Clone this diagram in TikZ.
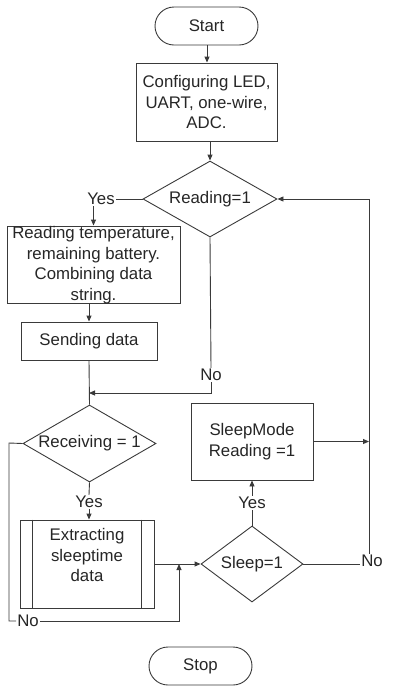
\documentclass[tikz,border=0pt]{standalone}
\usepackage{fontspec}
\setmainfont{Liberation Sans}
\usetikzlibrary{shapes.geometric,arrows.meta,calc}
\definecolor{ln}{HTML}{3A3A3A}
\definecolor{tx}{HTML}{262626}
\begin{document}
\begin{tikzpicture}[x=1pt,y=-1pt,
  every node/.style={font=\fontsize{16.8}{20.5}\selectfont, text=tx},
  flow/.style={draw=ln, line width=0.9pt},
  arr/.style={flow, -{Triangle[length=6pt,width=5pt]}},
  boxnode/.style={draw=ln, line width=0.9pt, rectangle, inner sep=0pt, align=center},
  term/.style={boxnode, rounded corners=19pt, minimum width=103pt, minimum height=38pt},
  decision/.style={draw=ln, line width=0.9pt, diamond, inner sep=0pt, aspect=1.7},
  lbl/.style={inner sep=1pt}]
\useasboundingbox (0,0) rectangle (407,689);

% nodes
\node[term] (start) at (206.5,26) {Start};
\node[boxnode, minimum width=141pt, minimum height=78pt] (cfg) at (206.5,102) {Configuring LED,\\UART, one-wire,\\ADC.};
\node[decision, minimum width=134pt, minimum height=76pt] (rd1) at (210,199) {};
\node (rd1txt) at (210,199) {Reading=1};
\node[lbl] (yes1) at (101,199) {Yes};
\node[boxnode, minimum width=173pt, minimum height=77pt] (rdbox) at (93.5,264.5) {};
\node[align=center, inner sep=0pt] (rdtxt) at (93.5,265) {Reading temperature,\\remaining battery.\\Combining data\\string.};
\node[boxnode, minimum width=136pt, minimum height=38pt] (send) at (89,341) {Sending data};
\node[lbl] (no1) at (211,375) {No};
\coordinate (j1) at (89,393);
\node[decision, minimum width=133pt, minimum height=77pt] (recv) at (89.5,443.5) {};
\node (recvtxt) at (89.5,443.5) {Receiving = 1};
\node[lbl] (yes2) at (89,502) {Yes};
\node[boxnode, minimum width=134pt, minimum height=88pt] (ext) at (87,564) {};
\draw[flow] ([xshift=13pt]ext.north west) -- ([xshift=13pt]ext.south west);
\draw[flow] ([xshift=-13pt]ext.north east) -- ([xshift=-13pt]ext.south east);
\node[align=center, inner sep=0pt] (exttxt) at (87,555) {Extracting\\sleeptime\\data};
\coordinate (m) at (179,564);
\node[decision, minimum width=102pt, minimum height=76pt] (sleep) at (252,564) {};
\node (sleeptxt) at (252,564) {Sleep=1};
\node[lbl] (yes3) at (252,503) {Yes};
\node[boxnode, minimum width=122pt, minimum height=77pt] (sm) at (252,441.5) {SleepMode\\Reading =1};
\coordinate (r) at (369,199);
\node[lbl] (no4) at (372,561) {No};
\coordinate (lft) at (9,443);
\node[lbl] (no3) at (28,621) {No};
\node[term] (stop) at (200.5,666) {Stop};

% connectors
\draw[arr] (start.south -| 207,0) -- (cfg.north -| 207,0);
\draw[arr] (rd1.north |- cfg.south) -- (rd1.north);
\draw[flow] (rd1.west) -- (yes1.east);
\draw[arr] (yes1.south -| rdbox.north) -- (rdbox.north);
\draw[arr] (rdbox.south -| send.north) -- (send.north);
\draw[flow] (send.south) -- (recv.north);
\draw[flow] (rd1.south) -- (no1.north);
\draw[arr] (no1.south) -- (no1.south |- j1) -- (j1);
\draw[flow] (recv.south) -- (yes2.north);
\draw[arr] (yes2.south) -- (ext.north -| yes2.south);
\draw[arr] (ext.east |- m) -- (sleep.west);
\draw[flow] (recv.west) -- (lft) -- (lft |- no3) -- (no3.west);
\draw[arr] (no3.east) -- (no3 -| m) -- (m);
\draw[flow] (sleep.north) -- (yes3.south);
\draw[arr] (yes3.north) -- (sm.south);
\draw[arr] (sm.east) -- (sm.east -| r);
\draw[flow] (sleep.east) -- (sleep.east -| no4.west);
\draw[arr] (no4.north -| r) -- (r) -- (rd1.east);
\end{tikzpicture}
\end{document}
